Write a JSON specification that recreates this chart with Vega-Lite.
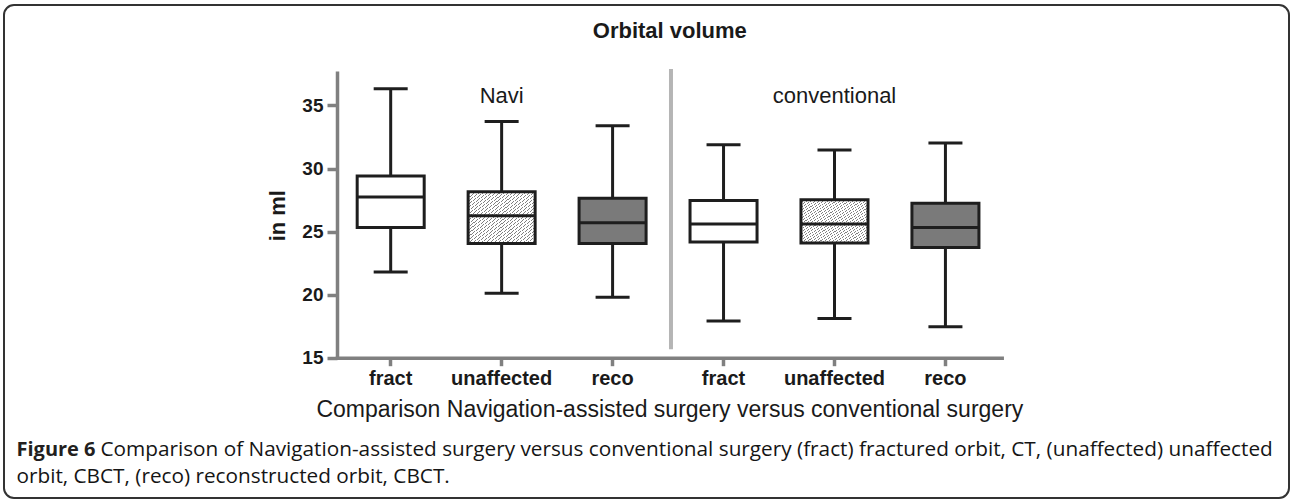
{
  "$schema": "https://vega.github.io/schema/vega-lite/v6.json",
  "width": 1285,
  "height": 493,
  "autosize": "none",
  "padding": {"left": 4, "top": 5, "right": 1, "bottom": 1},
  "background": "white",
  "config": {
    "axis": {"grid": false},
    "view": {"stroke": "#333333", "strokeWidth": 2, "cornerRadius": 10}
  },
  "data": {
    "values": [
      {"group": "Navi", "type": "fract", "key": "Navi fract", "min": 21.8, "q1": 25.32, "median": 27.75, "q3": 29.4, "max": 36.33},
      {"group": "Navi", "type": "unaffected", "key": "Navi unaffected", "min": 20.11, "q1": 24.05, "median": 26.25, "q3": 28.15, "max": 33.73},
      {"group": "Navi", "type": "reco", "key": "Navi reco", "min": 19.79, "q1": 24.05, "median": 25.71, "q3": 27.65, "max": 33.39},
      {"group": "conventional", "type": "fract", "key": "conventional fract", "min": 17.91, "q1": 24.18, "median": 25.61, "q3": 27.46, "max": 31.88},
      {"group": "conventional", "type": "unaffected", "key": "conventional unaffected", "min": 18.1, "q1": 24.1, "median": 25.61, "q3": 27.52, "max": 31.48},
      {"group": "conventional", "type": "reco", "key": "conventional reco", "min": 17.46, "q1": 23.73, "median": 25.32, "q3": 27.25, "max": 32.02}
    ]
  },
  "resolve": {"axis": {"x": "independent", "y": "independent"}},
  "layer": [
    {
      "data": {"values": [{"between": "Navi | conventional"}]},
      "mark": {"type": "rule", "stroke": "#b5b5b5", "strokeWidth": 4, "xOffset": 58.4},
      "encoding": {
        "x": {"datum": "Navi reco", "type": "nominal", "axis": null},
        "y": {"datum": 15.67, "type": "quantitative", "axis": null},
        "y2": {"datum": 37.89}
      }
    },
    {
      "mark": {"type": "rule", "stroke": "#1e1e1e", "strokeWidth": 3, "opacity": 1},
      "encoding": {
        "x": {
          "field": "key", "type": "nominal",
          "scale": {
            "domain": ["Navi fract", "Navi unaffected", "Navi reco", "conventional fract", "conventional unaffected", "conventional reco"],
            "range": [333, 997.7], "paddingInner": 0.396, "paddingOuter": 0.1935, "align": 0.47
          },
          "axis": {
            "orient": "bottom", "offset": -140.3,
            "domainColor": "#808080", "domainWidth": 3.5, "domainCap": "square",
            "tickColor": "#808080", "tickWidth": 3.5, "tickSize": 8,
            "labelAngle": 0, "labelFont": "Liberation Sans", "labelFontWeight": "bold", "labelFontSize": 20,
            "labelColor": "#1a1a1a", "labelPadding": 3, "labelExpr": "split(datum.label, ' ')[1]",
            "title": "Comparison Navigation-assisted surgery versus conventional surgery",
            "titleFont": "Liberation Sans", "titleFontWeight": "normal", "titleFontSize": 23,
            "titleColor": "#1a1a1a", "titlePadding": 10
          }
        },
        "y": {
          "field": "min", "type": "quantitative",
          "scale": {"domain": [15, 37.6], "range": [352.7, 67.7], "nice": false, "zero": false},
          "axis": {
            "orient": "left", "offset": -333, "values": [15, 20, 25, 30, 35],
            "domainColor": "#808080", "domainWidth": 3.5, "domainCap": "square",
            "tickColor": "#808080", "tickWidth": 3.5, "tickSize": 10,
            "labelFont": "Liberation Sans", "labelFontWeight": "bold", "labelFontSize": 19,
            "labelColor": "#1a1a1a", "labelPadding": 4,
            "title": "in ml", "titleFont": "Liberation Sans", "titleFontWeight": "bold",
            "titleFontSize": 22, "titleColor": "#1a1a1a", "titlePadding": 12
          }
        },
        "y2": {"field": "max"}
      }
    },
    {
      "mark": {"type": "tick", "color": "#1e1e1e", "opacity": 1, "size": 34, "thickness": 3},
      "encoding": {
        "x": {
          "field": "key", "type": "nominal",
          "axis": {
            "orient": "top", "domain": false, "ticks": false, "labels": false,
            "title": "Orbital volume", "titleFont": "Liberation Sans", "titleFontWeight": "bold",
            "titleFontSize": 22, "titleColor": "#1a1a1a",
            "titleX": 665.3, "titleY": 25, "titleAlign": "center", "titleBaseline": "middle"
          }
        },
        "y": {
          "field": "min", "type": "quantitative",
          "axis": {
            "orient": "right", "domain": false, "ticks": false, "labels": false,
            "title": "Figure 6", "titleFont": "Open Sans", "titleFontWeight": "bold",
            "titleFontSize": 20, "titleColor": "#231f20", "titleAngle": 0,
            "titleX": -1273, "titleY": 444, "titleAlign": "left", "titleBaseline": "middle"
          }
        }
      }
    },
    {
      "mark": {"type": "tick", "color": "#1e1e1e", "opacity": 1, "size": 34, "thickness": 3},
      "encoding": {
        "x": {
          "field": "key", "type": "nominal",
          "axis": {
            "orient": "bottom", "domain": false, "ticks": false, "labels": false,
            "title": "orbit, CBCT, (reco) reconstructed orbit, CBCT.",
            "titleFont": "Open Sans", "titleFontWeight": "normal", "titleFontSize": 20.75,
            "titleColor": "#151515", "titleAngle": 0,
            "titleX": 12, "titleY": -22, "titleAlign": "left", "titleBaseline": "middle"
          }
        },
        "y": {
          "field": "max", "type": "quantitative",
          "axis": {
            "orient": "left", "domain": false, "ticks": false, "labels": false,
            "title": "Comparison of Navigation-assisted surgery versus conventional surgery (fract) fractured orbit, CT, (unaffected) unaffected",
            "titleFont": "Open Sans", "titleFontWeight": "normal", "titleFontSize": 20.75,
            "titleColor": "#151515", "titleAngle": 0, "titleLimit": 1300,
            "titleX": 96, "titleY": 444, "titleAlign": "left", "titleBaseline": "middle"
          }
        }
      }
    },
    {
      "transform": [{"filter": "datum.type === 'fract'"}],
      "mark": {"type": "bar", "fill": "white", "opacity": 1, "stroke": "#1e1e1e", "strokeWidth": 3},
      "encoding": {
        "x": {"field": "key", "type": "nominal", "axis": null},
        "y": {"field": "q1", "type": "quantitative", "axis": null},
        "y2": {"field": "q3"}
      }
    },
    {
      "transform": [{"filter": "datum.type === 'unaffected'"}],
      "mark": {
        "type": "bar", "stroke": "#1e1e1e", "strokeWidth": 3, "opacity": 1,
        "fill": {
          "gradient": "linear", "x1": 0, "y1": 0, "x2": 1, "y2": 1,
          "stops": [
            {"offset": 0, "color": "#ffffff"}, {"offset": 0.0235, "color": "#ffffff"}, {"offset": 0.0235, "color": "#808080"}, {"offset": 0.03125, "color": "#808080"},
            {"offset": 0.03125, "color": "#ffffff"}, {"offset": 0.05475, "color": "#ffffff"}, {"offset": 0.05475, "color": "#808080"}, {"offset": 0.0625, "color": "#808080"},
            {"offset": 0.0625, "color": "#ffffff"}, {"offset": 0.086, "color": "#ffffff"}, {"offset": 0.086, "color": "#808080"}, {"offset": 0.09375, "color": "#808080"},
            {"offset": 0.09375, "color": "#ffffff"}, {"offset": 0.11725, "color": "#ffffff"}, {"offset": 0.11725, "color": "#808080"}, {"offset": 0.125, "color": "#808080"},
            {"offset": 0.125, "color": "#ffffff"}, {"offset": 0.1485, "color": "#ffffff"}, {"offset": 0.1485, "color": "#808080"}, {"offset": 0.15625, "color": "#808080"},
            {"offset": 0.15625, "color": "#ffffff"}, {"offset": 0.17975, "color": "#ffffff"}, {"offset": 0.17975, "color": "#808080"}, {"offset": 0.1875, "color": "#808080"},
            {"offset": 0.1875, "color": "#ffffff"}, {"offset": 0.211, "color": "#ffffff"}, {"offset": 0.211, "color": "#808080"}, {"offset": 0.21875, "color": "#808080"},
            {"offset": 0.21875, "color": "#ffffff"}, {"offset": 0.24225, "color": "#ffffff"}, {"offset": 0.24225, "color": "#808080"}, {"offset": 0.25, "color": "#808080"},
            {"offset": 0.25, "color": "#ffffff"}, {"offset": 0.2735, "color": "#ffffff"}, {"offset": 0.2735, "color": "#808080"}, {"offset": 0.28125, "color": "#808080"},
            {"offset": 0.28125, "color": "#ffffff"}, {"offset": 0.30475, "color": "#ffffff"}, {"offset": 0.30475, "color": "#808080"}, {"offset": 0.3125, "color": "#808080"},
            {"offset": 0.3125, "color": "#ffffff"}, {"offset": 0.336, "color": "#ffffff"}, {"offset": 0.336, "color": "#808080"}, {"offset": 0.34375, "color": "#808080"},
            {"offset": 0.34375, "color": "#ffffff"}, {"offset": 0.36725, "color": "#ffffff"}, {"offset": 0.36725, "color": "#808080"}, {"offset": 0.375, "color": "#808080"},
            {"offset": 0.375, "color": "#ffffff"}, {"offset": 0.3985, "color": "#ffffff"}, {"offset": 0.3985, "color": "#808080"}, {"offset": 0.40625, "color": "#808080"},
            {"offset": 0.40625, "color": "#ffffff"}, {"offset": 0.42975, "color": "#ffffff"}, {"offset": 0.42975, "color": "#808080"}, {"offset": 0.4375, "color": "#808080"},
            {"offset": 0.4375, "color": "#ffffff"}, {"offset": 0.461, "color": "#ffffff"}, {"offset": 0.461, "color": "#808080"}, {"offset": 0.46875, "color": "#808080"},
            {"offset": 0.46875, "color": "#ffffff"}, {"offset": 0.49225, "color": "#ffffff"}, {"offset": 0.49225, "color": "#808080"}, {"offset": 0.5, "color": "#808080"},
            {"offset": 0.5, "color": "#ffffff"}, {"offset": 0.5235, "color": "#ffffff"}, {"offset": 0.5235, "color": "#808080"}, {"offset": 0.53125, "color": "#808080"},
            {"offset": 0.53125, "color": "#ffffff"}, {"offset": 0.55475, "color": "#ffffff"}, {"offset": 0.55475, "color": "#808080"}, {"offset": 0.5625, "color": "#808080"},
            {"offset": 0.5625, "color": "#ffffff"}, {"offset": 0.586, "color": "#ffffff"}, {"offset": 0.586, "color": "#808080"}, {"offset": 0.59375, "color": "#808080"},
            {"offset": 0.59375, "color": "#ffffff"}, {"offset": 0.61725, "color": "#ffffff"}, {"offset": 0.61725, "color": "#808080"}, {"offset": 0.625, "color": "#808080"},
            {"offset": 0.625, "color": "#ffffff"}, {"offset": 0.6485, "color": "#ffffff"}, {"offset": 0.6485, "color": "#808080"}, {"offset": 0.65625, "color": "#808080"},
            {"offset": 0.65625, "color": "#ffffff"}, {"offset": 0.67975, "color": "#ffffff"}, {"offset": 0.67975, "color": "#808080"}, {"offset": 0.6875, "color": "#808080"},
            {"offset": 0.6875, "color": "#ffffff"}, {"offset": 0.711, "color": "#ffffff"}, {"offset": 0.711, "color": "#808080"}, {"offset": 0.71875, "color": "#808080"},
            {"offset": 0.71875, "color": "#ffffff"}, {"offset": 0.74225, "color": "#ffffff"}, {"offset": 0.74225, "color": "#808080"}, {"offset": 0.75, "color": "#808080"},
            {"offset": 0.75, "color": "#ffffff"}, {"offset": 0.7735, "color": "#ffffff"}, {"offset": 0.7735, "color": "#808080"}, {"offset": 0.78125, "color": "#808080"},
            {"offset": 0.78125, "color": "#ffffff"}, {"offset": 0.80475, "color": "#ffffff"}, {"offset": 0.80475, "color": "#808080"}, {"offset": 0.8125, "color": "#808080"},
            {"offset": 0.8125, "color": "#ffffff"}, {"offset": 0.836, "color": "#ffffff"}, {"offset": 0.836, "color": "#808080"}, {"offset": 0.84375, "color": "#808080"},
            {"offset": 0.84375, "color": "#ffffff"}, {"offset": 0.86725, "color": "#ffffff"}, {"offset": 0.86725, "color": "#808080"}, {"offset": 0.875, "color": "#808080"},
            {"offset": 0.875, "color": "#ffffff"}, {"offset": 0.8985, "color": "#ffffff"}, {"offset": 0.8985, "color": "#808080"}, {"offset": 0.90625, "color": "#808080"},
            {"offset": 0.90625, "color": "#ffffff"}, {"offset": 0.92975, "color": "#ffffff"}, {"offset": 0.92975, "color": "#808080"}, {"offset": 0.9375, "color": "#808080"},
            {"offset": 0.9375, "color": "#ffffff"}, {"offset": 0.961, "color": "#ffffff"}, {"offset": 0.961, "color": "#808080"}, {"offset": 0.96875, "color": "#808080"},
            {"offset": 0.96875, "color": "#ffffff"}, {"offset": 0.99225, "color": "#ffffff"}, {"offset": 0.99225, "color": "#808080"}, {"offset": 1, "color": "#808080"}
          ]
        }
      },
      "encoding": {
        "x": {"field": "key", "type": "nominal", "axis": null},
        "y": {"field": "q1", "type": "quantitative", "axis": null},
        "y2": {"field": "q3"}
      }
    },
    {
      "transform": [{"filter": "datum.type === 'reco'"}],
      "mark": {"type": "bar", "fill": "#7a7a7a", "opacity": 1, "stroke": "#1e1e1e", "strokeWidth": 3},
      "encoding": {
        "x": {"field": "key", "type": "nominal", "axis": null},
        "y": {"field": "q1", "type": "quantitative", "axis": null},
        "y2": {"field": "q3"}
      }
    },
    {
      "mark": {"type": "tick", "color": "#1e1e1e", "opacity": 1, "size": 67, "thickness": 3},
      "encoding": {
        "x": {"field": "key", "type": "nominal", "axis": null},
        "y": {"field": "median", "type": "quantitative", "axis": null}
      }
    },
    {
      "transform": [{"filter": "datum.type === 'unaffected'"}],
      "mark": {"type": "text", "font": "Liberation Sans", "fontSize": 22, "color": "#1a1a1a", "baseline": "alphabetic", "align": "center"},
      "encoding": {
        "x": {"field": "key", "type": "nominal", "axis": null},
        "y": {"datum": 35.2, "type": "quantitative", "axis": null},
        "text": {"field": "group"}
      }
    }
  ]
}
